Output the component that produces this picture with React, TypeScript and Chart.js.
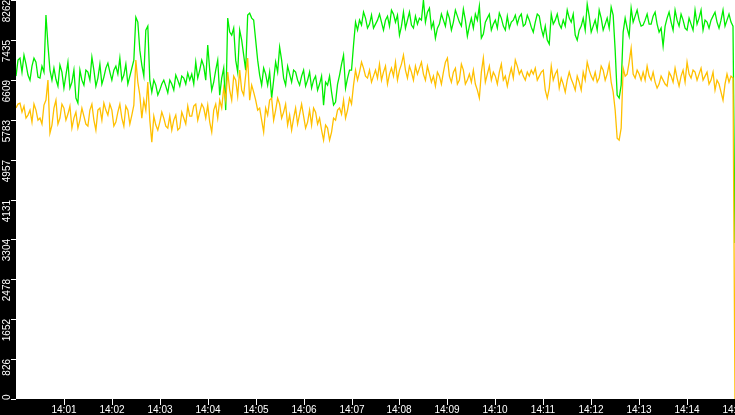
import { useEffect, useRef } from 'react';
import { Chart, registerables } from 'chart.js';

Chart.register(...registerables);

// Sampling: one point every 2.5 seconds from 14:00:00 to 14:15:00
const sampleStepSeconds = 2.5;

const greenSeries = [
  6686, 7017, 7059, 6769, 7121, 6935, 6707, 6603, 6893, 7059, 6976, 6665, 6645, 6893, 6769, 7949, 7328, 6810, 6603, 6852,
  6620, 6479, 6914, 6769, 6438, 6707, 6976, 6438, 6562, 6810, 6231, 6127, 6810, 6603, 6500, 6810, 6769, 6603, 7079, 6810,
  6479, 6645, 6935, 6521, 6665, 6852, 6955, 6769, 6603, 6810, 6893, 6728, 7059, 6603, 6707, 6935, 6521, 6686, 6852, 7017,
  7907, 7804, 7224, 6914, 6690, 7638, 7721, 6603, 6355, 6603, 6500, 6293, 6396, 6521, 6603, 6479, 6340, 6603, 6521, 6396,
  6707, 6603, 6479, 6686, 6645, 6521, 6748, 6603, 6728, 6521, 6976, 6645, 6810, 7017, 6893, 6603, 7328, 6810, 6396, 6562,
  6810, 7017, 6293, 6645, 6852, 5982, 7887, 7597, 7535, 7680, 7017, 6769, 7638, 7431, 7121, 6810, 7949, 7990, 7887, 7845,
  7431, 7017, 6707, 6500, 6852, 6728, 6500, 6769, 6231, 6603, 6976, 6769, 7286, 7017, 6645, 6500, 6893, 6728, 6562, 6810,
  6769, 6603, 6500, 6686, 6810, 6479, 6603, 6769, 6438, 6603, 6686, 6396, 6521, 6686, 6086, 6562, 6500, 6686, 6355, 6086,
  6148, 6521, 6707, 6935, 7121, 6438, 6645, 6810, 6810, 7328, 7804, 7638, 7845, 7742, 8011, 7887, 7680, 7763, 7949, 7680,
  7763, 7845, 7970, 7804, 7638, 7845, 7928, 7721, 8052, 7970, 7804, 7949, 7535, 7721, 8011, 7680, 7845, 8011, 7742, 7680,
  7928, 7763, 7887, 7845, 8262, 7804, 8011, 8094, 7680, 7804, 7473, 7680, 7763, 7970, 7845, 7721, 8011, 7887, 7638, 7804,
  8052, 7928, 7804, 7721, 8073, 7845, 7514, 7721, 7887, 7680, 7970, 7845, 8135, 7473, 7556, 7804, 7887, 7970, 7638, 7763,
  7845, 7680, 7990, 7887, 7721, 7638, 7928, 7680, 7804, 7845, 7949, 7763, 7907, 7970, 7721, 7763, 7949, 7845, 7700, 7597,
  7804, 7970, 7928, 7680, 7514, 7721, 7431, 7349, 7970, 7763, 7845, 7970, 7763, 7680, 7845, 7721, 8052, 7887, 7804, 7970,
  7535, 7431, 7638, 7721, 7887, 7638, 8177, 7928, 7597, 7721, 7845, 7638, 8052, 7887, 7638, 7763, 7887, 7680, 8114, 7949,
  7224, 6293, 6231, 6500, 7597, 7887, 7680, 7514, 8094, 7804, 7928, 8052, 7845, 7721, 7742, 7845, 7970, 7763, 7763, 7928,
  8011, 7763, 7597, 7680, 7307, 7721, 7887, 8011, 7804, 7638, 8052, 7845, 7721, 7970, 7845, 7680, 7638, 7887, 7763, 7638,
  8052, 7763, 7887, 8052, 7638, 7845, 7804, 7680, 7845, 7928, 8011, 7804, 7680, 7845, 8052, 7721, 7845, 7970, 7804, 7721,
  3229,
];

const yellowSeries = [
  6024, 6107, 6127, 5941, 6065, 5817, 5879, 5982, 5734, 6107, 5982, 5775, 5817, 5693, 6086, 6189, 6603, 5506, 5672, 6024,
  6189, 5693, 5817, 6107, 6024, 5775, 5900, 6065, 5610, 5817, 5941, 5610, 5775, 6024, 5858, 5693, 5651, 5982, 6107, 5775,
  5568, 5982, 6024, 5775, 6127, 5982, 5879, 6107, 5982, 5651, 5734, 5941, 6107, 5817, 5651, 6065, 5982, 5693, 5879, 6086,
  7017, 6562, 6293, 5817, 6189, 5982, 6562, 5775, 5320, 5858, 5672, 5568, 5734, 5941, 5817, 5651, 5610, 5858, 5568, 5775,
  5879, 5568, 5610, 5941, 5817, 5693, 6065, 5858, 5858, 6065, 6107, 5775, 5941, 6107, 6024, 5817, 6086, 5734, 5527, 5982,
  6107, 5817, 6189, 6024, 6438, 6189, 6769, 6396, 6189, 6686, 6603, 6272, 6810, 6396, 6293, 6707, 7059, 6189, 6500, 6355,
  6189, 5982, 6024, 5775, 5527, 6024, 5879, 6189, 6231, 5775, 5982, 6231, 6107, 5817, 5941, 6107, 5672, 5879, 5568, 5817,
  6024, 5693, 5900, 6107, 5858, 5610, 5734, 5982, 5672, 6024, 5941, 5693, 5817, 5568, 5361, 5672, 5610, 5361, 5527, 5817,
  5775, 5982, 6024, 5900, 6189, 5817, 5982, 6231, 6107, 6500, 6810, 6603, 6769, 6976, 6852, 6686, 6645, 6810, 6562, 6686,
  6810, 6645, 6935, 6603, 6769, 6893, 6521, 6728, 6852, 6686, 6976, 6603, 6810, 6935, 7121, 6810, 6645, 6893, 6769, 6603,
  6893, 6728, 6852, 6976, 6728, 6603, 6893, 6728, 6562, 6686, 6479, 6769, 6686, 6521, 6769, 6976, 7059, 6686, 6562, 6769,
  6852, 6521, 6603, 6935, 6810, 6521, 6603, 6728, 6562, 6810, 6521, 6396, 6231, 6769, 7059, 6562, 6728, 6893, 6603, 6769,
  6686, 6521, 6769, 6935, 6603, 6686, 6479, 6686, 6852, 6645, 7017, 6893, 6728, 6810, 6686, 6603, 6769, 6686, 6810, 6728,
  6852, 6603, 6686, 6769, 6810, 6396, 6231, 6438, 6893, 6603, 6728, 6810, 6438, 6645, 6521, 6355, 6603, 6769, 6624, 6521,
  6396, 6686, 6562, 6396, 6769, 6603, 6976, 6810, 6686, 6603, 6769, 6562, 6645, 6893, 6810, 6603, 6728, 6935, 6562, 6355,
  5982, 5402, 5361, 5610, 6852, 6686, 6728, 6976, 7266, 6728, 6645, 6810, 6728, 6603, 6769, 6603, 6893, 6686, 6603, 6769,
  6562, 6438, 6521, 6686, 6603, 6521, 6479, 6769, 6686, 6562, 6852, 6645, 6479, 6686, 6810, 6562, 6976, 6728, 6645, 6810,
  6769, 6603, 6728, 6852, 6603, 6686, 6769, 6521, 6603, 6769, 6396, 6603, 6521, 6355, 6189, 6521, 6728, 6562, 6686, 6645,
  0,
];

const xTickSeconds = [60, 120, 180, 240, 300, 360, 420, 480, 540, 600, 660, 720, 780, 840, 900];
const xTickLabels = [
  '14:01', '14:02', '14:03', '14:04', '14:05', '14:06', '14:07', '14:08',
  '14:09', '14:10', '14:11', '14:12', '14:13', '14:14', '14:15',
];
const yTickValues = [0, 826.2, 1652.4, 2478.6, 3304.8, 4131, 4957.2, 5783.4, 6609.6, 7435.8, 8262];
const yTickLabels = ['0', '826', '1652', '2478', '3304', '4131', '4957', '5783', '6609', '7435', '8262'];
const yMax = 8262;
const xMax = 900;

const axesPlugin = {
  id: 'blackAxes',
  beforeDraw(chart: any) {
    const { ctx, chartArea: a, width, height } = chart;
    ctx.save();
    ctx.fillStyle = '#000000';
    ctx.fillRect(0, 0, width, height);
    ctx.fillStyle = '#ffffff';
    ctx.fillRect(a.left, a.top, a.right - a.left, a.bottom - a.top);
    ctx.restore();
  },
  afterDraw(chart: any) {
    const { ctx, chartArea: a, scales } = chart;
    const xs = scales.x;
    const ys = scales.y;
    ctx.save();
    ctx.strokeStyle = '#ffffff';
    ctx.fillStyle = '#ffffff';
    ctx.lineWidth = 1;
    ctx.font = '10px "Liberation Sans Narrow", "Liberation Sans", sans-serif';
    ctx.textAlign = 'left';
    ctx.textBaseline = 'alphabetic';
    yTickValues.forEach((v, i) => {
      const py = Math.round(ys.getPixelForValue(v));
      ctx.beginPath();
      ctx.moveTo(11, py + 0.5);
      ctx.lineTo(a.left, py + 0.5);
      ctx.stroke();
      const label = yTickLabels[i];
      const w = ctx.measureText(label).width;
      let start = py + w;
      if (start > a.bottom + 1) start = a.bottom + 1;
      ctx.save();
      ctx.translate(10, start);
      ctx.rotate(-Math.PI / 2);
      ctx.fillText(label, 0, 0);
      ctx.restore();
    });
    ctx.font = '10px "Liberation Sans", sans-serif';
    ctx.textAlign = 'center';
    xTickSeconds.forEach((s, i) => {
      const px = Math.round(xs.getPixelForValue(s));
      ctx.beginPath();
      ctx.moveTo(px + 0.5, a.bottom);
      ctx.lineTo(px + 0.5, a.bottom + 6);
      ctx.stroke();
      ctx.fillText(xTickLabels[i], px, a.bottom + 14);
    });
    ctx.restore();
  },
};

export default function App() {
  const canvasRef = useRef<HTMLCanvasElement | null>(null);

  useEffect(() => {
    document.body.style.margin = '0';
    const canvas = canvasRef.current;
    if (!canvas) return;
    const toPoints = (arr: number[]) => arr.map((v, i) => ({ x: i * sampleStepSeconds, y: v }));
    const chart = new Chart(canvas, {
      type: 'line',
      data: {
        datasets: [
          {
            label: 'yellow',
            data: toPoints(yellowSeries),
            borderColor: '#ffc000',
            borderWidth: 1.3,
            pointRadius: 0,
            tension: 0,
            fill: false,
          },
          {
            label: 'green',
            data: toPoints(greenSeries),
            borderColor: '#00ee00',
            borderWidth: 1.3,
            pointRadius: 0,
            tension: 0,
            fill: false,
          },
        ],
      },
      options: {
        animation: false,
        responsive: false,
        maintainAspectRatio: false,
        parsing: false,
        normalized: true,
        layout: { padding: { left: 16, right: 0, top: 0, bottom: 16 } },
        plugins: { legend: { display: false }, tooltip: { enabled: false } },
        events: [],
        scales: {
          x: { type: 'linear', min: 0, max: xMax, display: false },
          y: { type: 'linear', min: 0, max: yMax, display: false },
        },
      },
      plugins: [axesPlugin],
    });
    return () => chart.destroy();
  }, []);

  return (
    <div style={{ position: 'fixed', left: 0, top: 0, width: 735, height: 415 }}>
      <canvas ref={canvasRef} width={735} height={415} style={{ display: 'block' }} />
    </div>
  );
}
